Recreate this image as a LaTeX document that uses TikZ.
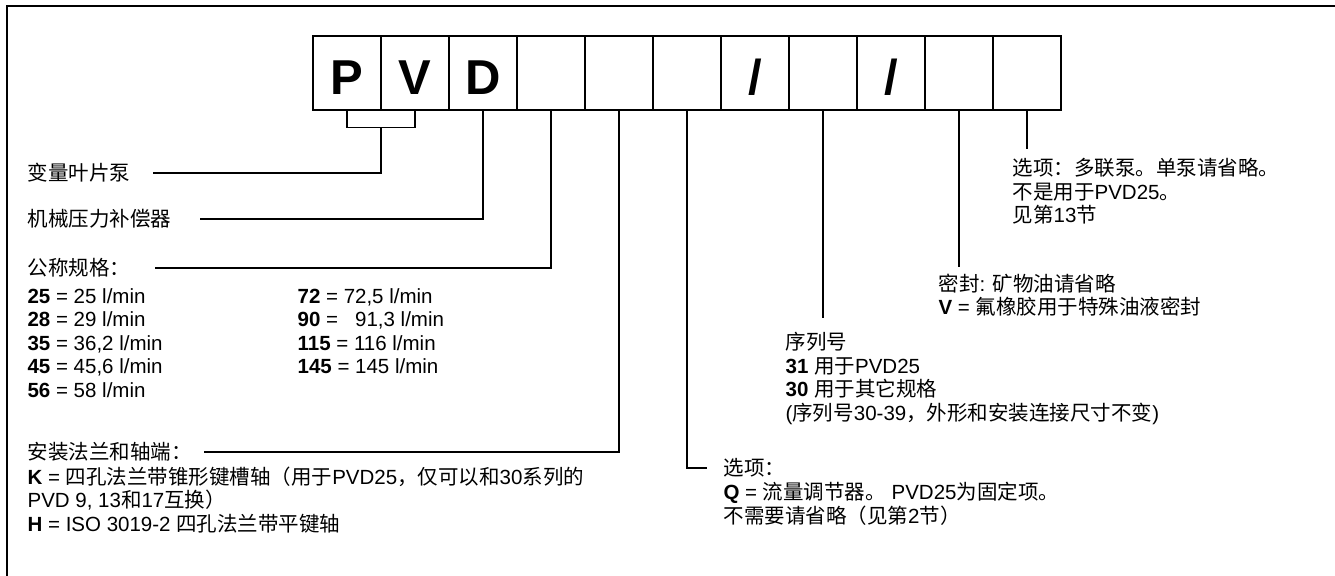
\documentclass[tikz,border=0pt]{standalone}
\usepackage{fontspec}
\setmainfont{Liberation Sans}
\newfontfamily\cjk{Noto Sans CJK SC}
\newcommand{\zh}[1]{{\cjk #1}}
\usetikzlibrary{positioning, calc}
\tikzset{
  every picture/.style={line width=0.6pt},
  codebox/.style={draw, line width=0.7pt, minimum width=34pt, minimum height=37pt, inner sep=0pt,
    text height=22pt, text depth=0pt, font=\fontsize{24.5}{24.5}\selectfont\bfseries},
  lbl/.style={anchor=west, inner sep=0pt, font=\fontsize{10.25}{11.75}\selectfont},
  desc/.style={anchor=north west, align=left, inner sep=0pt, font=\fontsize{10.25}{11.75}\selectfont},
}

\begin{document}
\begin{tikzpicture}[x=0.5pt, y=-0.5pt]
  \useasboundingbox (0,0) rectangle (1335,576);
  \draw[line width=0.8pt] (7,576) -- (7,6) -- (1335,6);
  % code boxes
  \foreach \ch [count=\i] in {P,V,D,{},{},{},/,{},/,{},{}}
    \node[codebox] (c\i) at (279+68*\i, 73) {\ch};
  % PV bracket
  \draw (c1.south) -- ++(0,17) -| (c2.south);
  \coordinate (pv) at ($(c1.south)!0.5!(c2.south) + (0,17)$);
  % left labels
  \node[lbl] (pump) at (27,173) {\zh{变量叶片泵}};
  \node[lbl] (comp) at (27,219) {\zh{机械压力补偿器}};
  \node[lbl] (size) at (27,268) {\zh{公称规格：}};
  \node[desc] (sizeA) at (27,288) {\textbf{25} = 25 l/min\\ \textbf{28} = 29 l/min\\ \textbf{35} = 36,2 l/min\\
    \textbf{45} = 45,6 l/min\\ \textbf{56} = 58 l/min};
  \node[desc] (sizeB) at (297,288) {\textbf{72} = 72,5 l/min\\ \textbf{90} = \ \ 91,3 l/min\\
    \textbf{115} = 116 l/min\\ \textbf{145} = 145 l/min};
  \node[lbl] (mount) at (27,452) {\zh{安装法兰和轴端：}};
  \node[desc] (mountB) at (27,466) {\textbf{K} = \zh{四孔法兰带锥形键槽轴（用于}PVD25\zh{，仅可以和}30\zh{系列的}\\
    PVD 9, 13\zh{和}17\zh{互换）}\\ \textbf{H} = ISO 3019-2 \zh{四孔法兰带平键轴}};
  % middle and right labels
  \node[lbl] (opt) at (723,468) {\zh{选项：}};
  \node[desc] (optB) at (723,482) {\textbf{Q} = \zh{流量调节器。} PVD25\zh{为固定项。}\\ \zh{不需要请省略（见第}2\zh{节）}};
  \node[desc] (serial) at (785,332) {\zh{序列号}\\ \textbf{31} \zh{用于}PVD25\\ \textbf{30} \zh{用于其它规格}\\
    (\zh{序列号}30-39\zh{，外形和安装连接尺寸不变})};
  \node[desc] (seal) at (938,273) {\zh{密封}: \zh{矿物油请省略}\\ \textbf{V} = \zh{氟橡胶用于特殊油液密封}};
  \node[desc] (multi) at (1012,158) {\zh{选项：多联泵。单泵请省略。}\\ \zh{不是用于}PVD25\zh{。}\\ \zh{见第}13\zh{节}};
  % leads
  \draw (pv) |- ([xshift=11pt]pump.east);
  \draw (c3.south) |- ([xshift=14pt]comp.east);
  \draw (c4.south) |- ([xshift=12pt]size.east);
  \draw (c5.south) |- ([xshift=6pt]mount.east);
  \draw (c6.south) |- ([xshift=-8pt]opt.west);
  \draw (c8.south) -- ([yshift=7pt]c8.south |- serial.north);
  \draw (c10.south) -- ([yshift=3pt]c10.south |- seal.north);
  \draw (c11.south) -- ([yshift=4.5pt]c11.south |- multi.north);
\end{tikzpicture}
\end{document}
